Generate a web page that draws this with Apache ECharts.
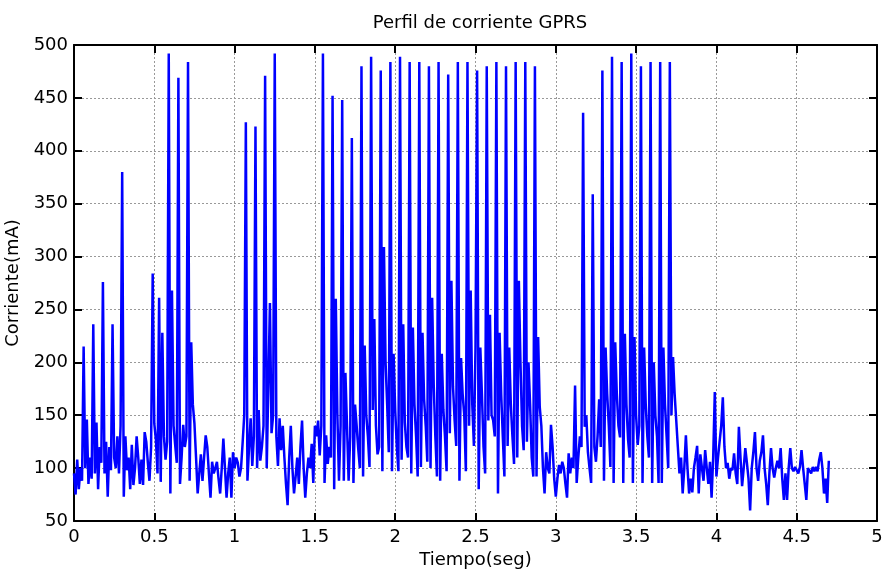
<!DOCTYPE html>
<html>
<head>
<meta charset="utf-8">
<title>Perfil de corriente GPRS</title>
<script src="https://cdn.jsdelivr.net/npm/echarts@6/dist/echarts.min.js"></script>
<style>
  html, body { margin: 0; padding: 0; background: #fff; }
  #chart { width: 884px; height: 569px; }
</style>
</head>
<body>
<div id="chart"></div>
<script>
// sampled current, one value every 10 ms from t = 0 s
const sampleStep = 0.01;
const corriente = [
  95, 75, 108, 80, 100, 88, 215, 100, 146, 85,
  110, 90, 236, 95, 143, 80, 120, 105, 276, 95,
  125, 73, 120, 98, 236, 110, 100, 130, 95, 140,
  380, 73, 130, 98, 110, 80, 122, 84, 100, 130,
  110, 85, 108, 84, 134, 125, 105, 88, 120, 284,
  142, 127, 95, 261, 87, 228, 130, 108, 125, 492,
  76, 268, 140, 122, 105, 469, 85, 110, 141, 120,
  130, 484, 88, 219, 160, 142, 110, 76, 95, 113,
  88, 110, 131, 120, 95, 72, 106, 95, 100, 106,
  90, 76, 100, 128, 100, 72, 95, 110, 72, 115,
  100, 110, 105, 92, 100, 124, 150, 427, 88, 120,
  147, 102, 130, 423, 100, 155, 107, 120, 140, 471,
  100, 178, 256, 133, 150, 492, 130, 102, 147, 117,
  140, 110, 85, 65, 110, 140, 100, 76, 92, 110,
  85, 120, 145, 100, 72, 95, 110, 100, 123, 86,
  140, 130, 145, 112, 140, 492, 86, 131, 104, 120,
  110, 452, 80, 260, 150, 88, 140, 448, 88, 190,
  140, 88, 130, 412, 86, 160, 140, 118, 100, 480,
  92, 216, 150, 130, 101, 489, 155, 241, 140, 113,
  120, 476, 97, 309, 200, 160, 115, 484, 97, 208,
  155, 120, 97, 489, 108, 236, 143, 120, 110, 484,
  95, 233, 160, 130, 92, 484, 101, 228, 165, 140,
  106, 480, 100, 261, 178, 130, 92, 484, 88, 208,
  155, 130, 97, 472, 133, 277, 177, 145, 121, 484,
  88, 204, 170, 150, 97, 484, 140, 268, 160, 121,
  214, 476, 80, 214, 170, 120, 95, 480, 145, 245,
  150, 145, 130, 484, 76, 228, 170, 130, 92, 480,
  121, 214, 160, 130, 104, 484, 110, 277, 200, 140,
  117, 484, 125, 200, 160, 110, 92, 480, 92, 224,
  158, 140, 100, 76, 115, 100, 95, 141, 120, 90,
  73, 90, 103, 95, 106, 100, 85, 72, 114, 95,
  110, 100, 178, 86, 110, 130, 120, 436, 139, 150,
  115, 100, 86, 359, 120, 106, 130, 165, 120, 476,
  88, 214, 170, 140, 101, 489, 86, 219, 170, 140,
  129, 484, 86, 227, 160, 127, 110, 492, 86, 224,
  150, 122, 140, 480, 86, 214, 160, 130, 110, 484,
  86, 200, 150, 130, 86, 484, 86, 214, 160, 130,
  100, 484, 150, 205, 170, 145, 120, 95, 110, 76,
  100, 131, 100, 76, 90, 77, 100, 110, 121, 76,
  113, 100, 88, 117, 100, 85, 106, 72, 110, 172,
  92, 110, 125, 140, 167, 120, 100, 105, 90, 100,
  98, 114, 95, 85, 139, 110, 83, 100, 119, 105,
  90, 60, 100, 115, 134, 100, 88, 107, 115, 131,
  100, 85, 65, 95, 119, 100, 91, 100, 107, 100,
  119, 90, 70, 95, 70, 100, 119, 100, 97, 101,
  101, 95, 101, 117, 100, 85, 70, 100, 101, 95,
  101, 97, 101, 97, 108, 115, 100, 76, 90, 67,
  107,
];

const xRange = [0, 5, 0.5];
const yRange = [50, 500, 50];

const font = "DejaVu Sans, Liberation Sans, Arial, sans-serif";
const points = corriente.map((v, i) => [+(i * sampleStep).toFixed(2), v]);

const boxLine = { show: true, onZero: false, lineStyle: { color: "#000", width: 2 } };
const tick = { show: true, inside: true, length: 8, lineStyle: { color: "#000", width: 2 } };
const grid = { show: true, lineStyle: { color: "#999", width: 1, type: [2, 2] } };
const label = { color: "#000", fontSize: 18, fontFamily: font };

const chart = echarts.init(document.getElementById("chart"));
chart.setOption({
  animation: false,
  backgroundColor: "#fff",
  title: {
    text: "Perfil de corriente GPRS",
    left: 475,
    textAlign: "center",
    top: 9,
    textStyle: { color: "#000", fontSize: 18, fontWeight: "normal", fontFamily: font },
  },
  grid: { left: 74, right: 7, top: 45, bottom: 48, outerBoundsMode: "none", containLabel: false },
  xAxis: [
    {
      type: "value",
      min: xRange[0],
      max: xRange[1],
      interval: xRange[2],
      name: "Tiempo(seg)",
      nameLocation: "middle",
      nameGap: 27,
      nameTextStyle: label,
      axisLine: boxLine,
      axisTick: tick,
      splitLine: grid,
      axisLabel: Object.assign({ margin: 7 }, label),
    },
    {
      type: "value",
      position: "top",
      min: xRange[0],
      max: xRange[1],
      interval: xRange[2],
      axisLine: boxLine,
      axisTick: tick,
      splitLine: { show: false },
      axisLabel: { show: false },
    },
  ],
  yAxis: [
    {
      type: "value",
      min: yRange[0],
      max: yRange[1],
      interval: yRange[2],
      name: "Corriente(mA)",
      nameLocation: "middle",
      nameGap: 43,
      nameTextStyle: label,
      axisLine: boxLine,
      axisTick: tick,
      splitLine: grid,
      axisLabel: Object.assign({ margin: 6 }, label),
    },
    {
      type: "value",
      position: "right",
      min: yRange[0],
      max: yRange[1],
      interval: yRange[2],
      axisLine: boxLine,
      axisTick: tick,
      splitLine: { show: false },
      axisLabel: { show: false },
    },
  ],
  series: [
    {
      name: "Corriente",
      type: "line",
      data: points,
      showSymbol: false,
      symbol: "none",
      lineStyle: { color: "#0000ff", width: 2.5 },
      z: 1,
    },
  ],
});
</script>
</body>
</html>
